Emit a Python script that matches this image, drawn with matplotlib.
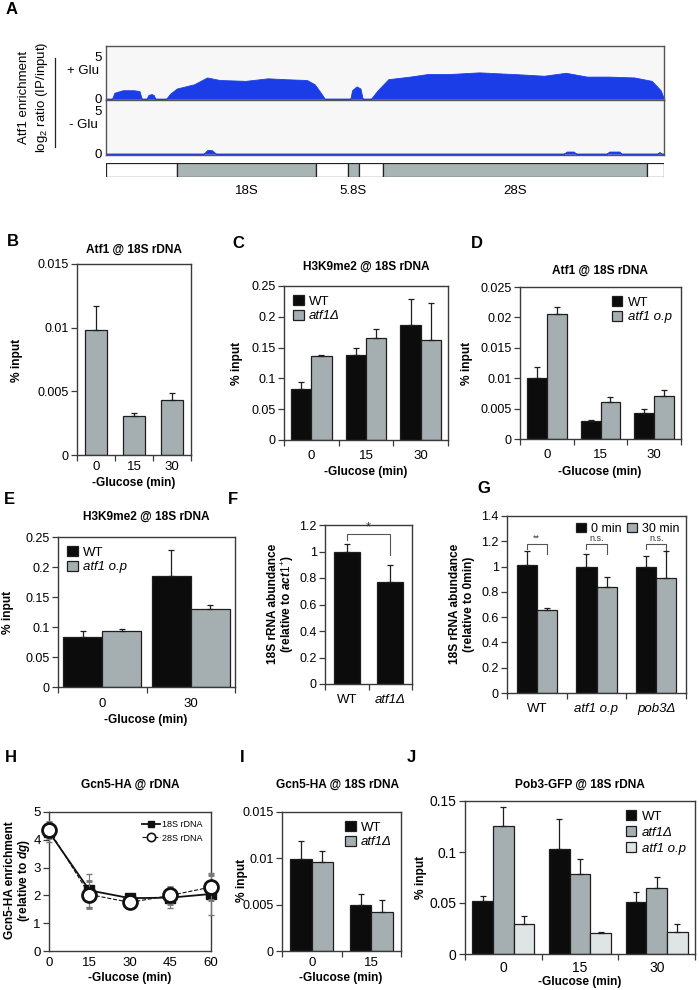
import numpy as np
import matplotlib
matplotlib.use("Agg")
import matplotlib.pyplot as plt
from matplotlib.patches import Patch
from matplotlib.lines import Line2D

plt.rcParams['font.family'] = 'Liberation Sans'
plt.rcParams['mathtext.fontset'] = 'custom'
plt.rcParams['mathtext.rm'] = 'Liberation Sans'
plt.rcParams['mathtext.it'] = 'Liberation Sans:italic:bold'
plt.rcParams['mathtext.bf'] = 'Liberation Sans:bold'

# ---- data ----
# A: Atf1 ChIP-chip profile along the rDNA repeat (fraction of repeat, log2 ratio)
pos_plus = [0.0, 0.011, 0.015, 0.03, 0.05, 0.06, 0.064, 0.073, 0.076, 0.082, 0.086, 0.088,
            0.108, 0.115, 0.127, 0.158, 0.181, 0.204, 0.25, 0.29, 0.32, 0.36, 0.374, 0.386, 0.392,
            0.438, 0.441, 0.449, 0.456, 0.46,
            0.475, 0.487, 0.506, 0.545, 0.576, 0.614, 0.669, 0.715, 0.746, 0.785, 0.824,
            0.862, 0.901, 0.947, 0.978, 0.994, 1.0]
val_plus = [0, 0, 0.7, 1.0, 1.0, 0.9, 0, 0, 0.45, 0.55, 0.4, 0,
            0, 0.6, 1.2, 1.7, 2.5, 2.2, 2.1, 2.4, 2.3, 2.2, 1.7, 0.6, 0,
            0, 1.0, 1.45, 1.2, 0,
            0, 1.0, 2.3, 2.6, 2.9, 2.9, 3.1, 2.95, 2.85, 2.7, 3.05,
            2.6, 2.6, 2.5, 2.1, 1.0, 0]
pos_minus = [0.0, 0.175, 0.182, 0.19, 0.197, 0.82, 0.826, 0.838, 0.843,
             0.897, 0.902, 0.92, 0.924, 0.988, 0.992, 0.996, 1.0]
val_minus = [0, 0, 0.45, 0.4, 0, 0, 0.25, 0.25, 0, 0, 0.25, 0.25, 0, 0, 0.2, 0, 0]
seg_edges = [0, 0.127, 0.377, 0.433, 0.454, 0.496, 0.969, 1.0]
seg_coding = [False, True, False, True, False, True, False]
seg_names = ['18S', '5.8S', '28S']

times3 = ['0', '15', '30']
times2 = ['0', '30']

b_atf1 = [0.0098, 0.0031, 0.0043]
b_atf1_err = [0.0019, 0.0002, 0.0006]

c_wt = [0.082, 0.138, 0.186]
c_wt_err = [0.012, 0.012, 0.043]
c_del = [0.136, 0.165, 0.162]
c_del_err = [0.002, 0.016, 0.060]

d_wt = [0.0100, 0.0030, 0.0043]
d_wt_err = [0.0018, 0.0002, 0.0006]
d_op = [0.0205, 0.0061, 0.0070]
d_op_err = [0.0012, 0.0008, 0.0010]

e_wt = [0.083, 0.185]
e_wt_err = [0.011, 0.044]
e_op = [0.094, 0.13]
e_op_err = [0.003, 0.007]

f_strains = ['WT', 'atf1Δ']
f_vals = [1.0, 0.77]
f_err = [0.055, 0.13]

g_strains = ['WT', 'atf1 o.p', 'pob3Δ']
g_0min = [1.01, 1.0, 1.0]
g_0min_err = [0.11, 0.10, 0.087]
g_30min = [0.66, 0.84, 0.907]
g_30min_err = [0.015, 0.075, 0.22]
g_sig = ['**', 'n.s.', 'n.s.']

h_times = [0, 15, 30, 45, 60]
h_18s = [4.28, 2.18, 1.90, 1.92, 2.05]
h_18s_err = [0.35, 0.6, 0.08, 0.38, 0.75]
h_28s = [4.35, 2.03, 1.75, 2.0, 2.3]
h_28s_err = [0.3, 0.5, 0.08, 0.3, 0.45]

i_times = ['0', '15']
i_wt = [0.0099, 0.0050]
i_wt_err = [0.0020, 0.0012]
i_del = [0.0096, 0.0042]
i_del_err = [0.0012, 0.0013]

j_wt = [0.0522, 0.103, 0.0512]
j_wt_err = [0.0045, 0.0295, 0.0098]
j_del = [0.1252, 0.078, 0.0643]
j_del_err = [0.019, 0.015, 0.011]
j_op = [0.029, 0.0202, 0.0215]
j_op_err = [0.008, 0.0017, 0.008]

BLACK = '#0c0c0c'
GREY = '#a5afb1'
LIGHT = '#dfe5e4'
EDGE = '#1e1e1e'
SPINE = '#3a3a3a'

W, H = 699, 990
fig = plt.figure(figsize=(6.99, 9.9), dpi=100)


def box(l, t, r, b):
    return fig.add_axes([l / W, 1 - b / H, (r - l) / W, (b - t) / H])


def ftext(x, y, s, **kw):
    kw.setdefault('ha', 'center')
    kw.setdefault('va', 'center')
    fig.text(x / W, 1 - y / H, s, **kw)


def style(ax, yticks, ysize=9):
    for s in ax.spines.values():
        s.set_color(SPINE)
        s.set_linewidth(1.0)
    ax.set_ylim(yticks[0], yticks[-1])
    ax.set_yticks(yticks)
    ax.set_yticklabels([f'{t:g}' for t in yticks], fontsize=ysize)
    ax.tick_params(axis='y', length=4, width=0.9, color=SPINE, pad=2)


def bars(ax, groups, series, errs, colors, width, pad=5, xsize=9.5):
    n = len(groups)
    k = len(series)
    x = np.arange(n)
    for i, (vals, err, c) in enumerate(zip(series, errs, colors)):
        off = (i - (k - 1) / 2) * width
        ax.bar(x + off, vals, width, color=c, edgecolor=EDGE, linewidth=0.9, zorder=2)
        ax.errorbar(x + off, vals, yerr=[np.zeros(n), err], fmt='none', ecolor=EDGE,
                    elinewidth=0.9, capsize=2.2, capthick=0.9, zorder=3)
    ax.set_xlim(-0.5, n - 0.5)
    ax.set_xticks(np.arange(n + 1) - 0.5)
    ax.set_xticklabels([])
    ax.set_xticks(x, minor=True)
    ax.set_xticklabels(groups, minor=True, fontsize=xsize)
    ax.tick_params(axis='x', which='minor', length=0, pad=pad)
    ax.tick_params(axis='x', which='major', length=4, width=0.9, color=SPINE)


def legend(ax, labels, colors, italic, **kw):
    handles = [Patch(facecolor=c, edgecolor=EDGE, linewidth=0.9) for c in colors]
    opts = dict(frameon=False, handlelength=0.8, handleheight=0.8, handletextpad=0.4,
                labelspacing=0.15, borderaxespad=0.3, fontsize=9.5)
    opts.update(kw)
    leg = ax.legend(handles, labels, **opts)
    for t, it in zip(leg.get_texts(), italic):
        if it:
            t.set_style('italic')
    return leg


bold = dict(fontweight='bold', fontsize=8.6)

# ---- panel letters ----
for letter, x, y in [('A', 12, 10), ('B', 13, 242), ('C', 238, 243), ('D', 477, 243),
                     ('E', 9, 499), ('F', 233, 499), ('G', 484, 489), ('H', 11, 757),
                     ('I', 242, 757), ('J', 411, 757)]:
    ftext(x, y, letter, fontweight='bold', fontsize=12)

# ---- A ----
blue = '#1b3de8'
for (t, b, pos, val, lab) in [(46, 100, pos_plus, val_plus, '+ Glu'),
                              (100, 155, pos_minus, val_minus, '- Glu')]:
    ax = box(106, t, 664, b)
    ax.set_facecolor('#f7f7f7')
    ax.fill_between(pos, 0, val, color=blue, lw=0.6, edgecolor=blue)
    ax.set_xlim(0, 1)
    ax.set_ylim(-0.15, 6.2)
    ax.set_xticks([])
    ax.set_yticks([0, 5])
    ax.set_yticklabels(['0', '5'], fontsize=9.5)
    ax.tick_params(axis='y', length=0, pad=3)
    for s in ax.spines.values():
        s.set_color('#555555')
        s.set_linewidth(1.0)
    ftext(83, (t + b) / 2 - 2, lab, fontsize=9.5)

axm = box(106, 163, 664, 177)
for i in range(len(seg_coding)):
    axm.bar(seg_edges[i], 1, seg_edges[i + 1] - seg_edges[i], align='edge',
            color='#a9b4b4' if seg_coding[i] else 'white', edgecolor='#222222', linewidth=0.9)
axm.set_xlim(0, 1)
axm.set_ylim(0, 1)
axm.axis('off')
centers = [(seg_edges[i] + seg_edges[i + 1]) / 2 for i in range(len(seg_coding)) if seg_coding[i]]
for c, name in zip(centers, seg_names):
    ftext(106 + c * (664 - 106), 191, name, fontsize=9.5)
ftext(24, 97, 'Atf1 enrichment', rotation=90, fontsize=9.5)
ftext(42, 97, r'log$_2$ ratio (IP/input)', rotation=90, fontsize=9.5)
fig.add_artist(Line2D([55 / W, 55 / W], [1 - 58 / H, 1 - 147 / H], color='#222222', lw=0.9))

# ---- B ----
ax = box(77, 264, 191, 455)
bars(ax, times3, [b_atf1], [b_atf1_err], [GREY], 0.58, pad=4)
style(ax, np.arange(0, 0.0151, 0.005))
ftext(134, 250, 'Atf1 @ 18S rDNA', **bold)
ftext(134, 483, '-Glucose (min)', **bold)
ftext(17, 360, '% input', rotation=90, **bold)

# ---- C ----
ax = box(284, 286, 448, 440)
bars(ax, times3, [c_wt, c_del], [c_wt_err, c_del_err], [BLACK, GREY], 0.37, pad=7)
style(ax, np.arange(0, 0.2501, 0.05))
legend(ax, ['WT', 'atf1Δ'], [BLACK, GREY], [False, True], loc='upper left')
ftext(366, 267, 'H3K9me2 @ 18S rDNA', **bold)
ftext(366, 472, '-Glucose (min)', **bold)
ftext(237, 363, '% input', rotation=90, **bold)

# ---- D ----
ax = box(520, 287, 681, 439)
bars(ax, times3, [d_wt, d_op], [d_wt_err, d_op_err], [BLACK, GREY], 0.37, pad=7)
style(ax, np.arange(0, 0.02501, 0.005))
legend(ax, ['WT', 'atf1 o.p'], [BLACK, GREY], [False, True], loc='upper right')
ftext(600, 271, 'Atf1 @ 18S rDNA', **bold)
ftext(600, 472, '-Glucose (min)', **bold)
ftext(467, 363, '% input', rotation=90, **bold)

# ---- E ----
ax = box(58, 537, 235, 687)
bars(ax, times2, [e_wt, e_op], [e_wt_err, e_op_err], [BLACK, GREY], 0.44, pad=8)
style(ax, np.arange(0, 0.2501, 0.05))
legend(ax, ['WT', 'atf1 o.p'], [BLACK, GREY], [False, True], loc='upper left')
ftext(146, 517, 'H3K9me2 @ 18S rDNA', **bold)
ftext(146, 720, '-Glucose (min)', **bold)
ftext(8, 612, '% input', rotation=90, **bold)

# ---- F ----
ax = box(325, 525, 412, 684)
bars(ax, f_strains, [f_vals], [f_err], [BLACK], 0.6, pad=7)
style(ax, np.round(np.arange(0, 1.21, 0.2), 1))
ax.get_xticklabels(minor=True)[1].set_style('italic')
ax.plot([0, 0, 1, 1], [1.09, 1.135, 1.135, 0.97], color='#555555', lw=0.8)
ax.text(0.5, 1.14, '*', ha='center', va='bottom', fontsize=9, color='#333333')
ftext(273, 604, '18S rRNA abundance', rotation=90, **bold)
ftext(288, 604, r'(relative to $\mathit{act1}^{+}$)', rotation=90, **bold)

# ---- G ----
ax = box(507, 516, 686, 693)
bars(ax, g_strains, [g_0min, g_30min], [g_0min_err, g_30min_err], [BLACK, GREY], 0.34, pad=7)
style(ax, np.round(np.arange(0, 1.41, 0.2), 1))
for t in ax.get_xticklabels(minor=True)[1:]:
    t.set_style('italic')
legend(ax, ['0 min', '30 min'], [BLACK, GREY], [False, False], loc='upper right', ncol=2,
       columnspacing=0.4, borderaxespad=0.15, fontsize=9)
for i, s in enumerate(g_sig):
    x0, x1 = i - 0.17, i + 0.17
    ax.plot([x0, x0, x1, x1], [1.14, 1.18, 1.18, 1.10], color='#555555', lw=0.8)
    ax.text(i, 1.185, s, ha='center', va='bottom', fontsize=6.5, color='#333333')
ftext(455, 604, '18S rRNA abundance', rotation=90, **bold)
ftext(469, 604, '(relative to 0min)', rotation=90, **bold)

# ---- H ----
ax = box(49, 812, 211, 951)
ax.errorbar(h_times, h_18s, yerr=h_18s_err, color='#111111', lw=1.3, marker='s', ms=7,
            mfc='#111111', mec='#111111', ecolor='#777777', elinewidth=0.8, capsize=2,
            clip_on=False, zorder=3)
ax.errorbar(h_times, h_28s, yerr=h_28s_err, color='#111111', lw=0.8, ls='--', marker='o',
            ms=10, mfc='white', mec='#111111', mew=2, ecolor='#777777', elinewidth=0.8,
            capsize=2, clip_on=False, zorder=4)
ax.set_xlim(0, 60)
ax.set_xticks(h_times)
ax.set_xticklabels([str(t) for t in h_times], fontsize=9.5)
ax.tick_params(axis='x', length=0, pad=4)
style(ax, np.arange(0, 6, 1), ysize=9.5)
hl = [Line2D([], [], color='#111111', lw=1.3, marker='s', ms=5),
      Line2D([], [], color='#111111', lw=0.8, ls='--', marker='o', ms=6, mfc='white', mew=1.2)]
ax.legend(hl, ['18S rDNA', '28S rDNA'], frameon=False, fontsize=6.5, loc='upper right',
          handlelength=2.0, handletextpad=0.3, labelspacing=0.5, borderaxespad=0.5)
ftext(130, 785, 'Gcn5-HA @ rDNA', **bold)
ftext(130, 978, '-Glucose (min)', **bold)
ftext(10, 880, 'Gcn5-HA enrichment', rotation=90, **bold)
ftext(24, 880, r'(relative to $\mathit{dg}$)', rotation=90, **bold)

# ---- I ----
ax = box(282, 812, 401, 951)
bars(ax, i_times, [i_wt, i_del], [i_wt_err, i_del_err], [BLACK, GREY], 0.36, pad=4)
style(ax, np.arange(0, 0.0151, 0.005))
legend(ax, ['WT', 'atf1Δ'], [BLACK, GREY], [False, True], loc='upper right')
ftext(338, 785, 'Gcn5-HA @ 18S rDNA', **bold)
ftext(341, 978, '-Glucose (min)', **bold)
ftext(242, 880, '% input', rotation=90, **bold)

# ---- J ----
ax = box(465, 801, 695, 954)
bars(ax, times3, [j_wt, j_del, j_op], [j_wt_err, j_del_err, j_op_err],
     [BLACK, GREY, LIGHT], 0.27, pad=5, xsize=10)
style(ax, np.arange(0, 0.151, 0.05), ysize=10)
legend(ax, ['WT', 'atf1Δ', 'atf1 o.p'], [BLACK, GREY, LIGHT], [False, True, True],
       loc='upper right', labelspacing=0.25)
ftext(580, 785, 'Pob3-GFP @ 18S rDNA', **bold)
ftext(580, 982, '-Glucose (min)', **bold)
ftext(421, 877, '% input', rotation=90, **bold)

fig.savefig('out.png', dpi=100)
